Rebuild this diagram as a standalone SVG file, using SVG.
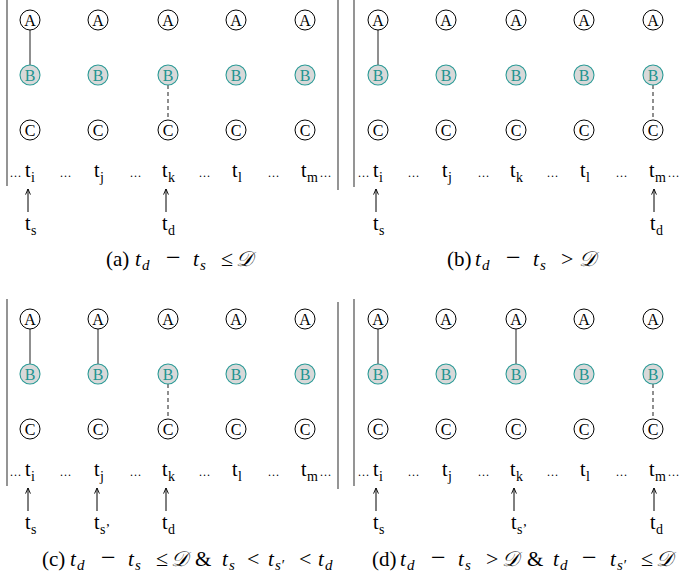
<svg xmlns="http://www.w3.org/2000/svg" width="681" height="581" viewBox="0 0 681 581" font-family="'Liberation Serif', 'Times New Roman', Times, 'DejaVu Serif', serif">
<style>
text{font-family:'Liberation Serif','Times New Roman',Times,'DejaVu Serif',serif;fill:#000}
.na{fill:#fff;stroke:#000;stroke-width:1}
.nb{fill:#d9d9d9;stroke:#2a9a96;stroke-width:1.1}
.la{font-size:16px;text-anchor:middle}
.lb{font-size:16px;text-anchor:middle;fill:#1f9490}
.t{font-size:20px}
.sub{font-size:14px}
.csub{font-size:15px}
.dots{font-size:12px;letter-spacing:1px}
.cap{font-size:21px}
.op{font-size:22px}
.mi{font-size:26px}
.it{font-style:italic}
.solid{stroke:#333;stroke-width:1.1;fill:none}
.dash{stroke:#333;stroke-width:1.1;stroke-dasharray:4 3;fill:none}
.arr{stroke:#000;stroke-width:1;fill:none;marker-end:url(#ah)}
.bar{stroke:#7a7a7a;stroke-width:1.6}
</style>
<defs>
<marker id="ah" viewBox="0 0 10 10" refX="9" refY="5" markerWidth="7" markerHeight="7" orient="auto" markerUnits="userSpaceOnUse">
<path d="M1,1.5 L9,5 L1,8.5" fill="none" stroke="#000" stroke-width="1.3"/>
</marker>
<g id="row">
<text class="t"><tspan class="dots" x="10" y="177">...</tspan><tspan x="25" y="177">t</tspan><tspan class="sub" x="31" y="182">i</tspan><tspan class="dots" x="60" y="177">...</tspan><tspan x="94" y="177">t</tspan><tspan class="sub" x="100" y="182">j</tspan><tspan class="dots" x="130" y="177">...</tspan><tspan x="162" y="177">t</tspan><tspan class="sub" x="168" y="182">k</tspan><tspan class="dots" x="199" y="177">...</tspan><tspan x="232" y="177">t</tspan><tspan class="sub" x="238" y="182">l</tspan><tspan class="dots" x="268" y="177">...</tspan><tspan x="301" y="177">t</tspan><tspan class="sub" x="307" y="182">m</tspan><tspan class="dots" x="320" y="177">...</tspan></text>
</g>
</defs>

<g id="borders">
<line class="bar" x1="7" y1="0" x2="7" y2="186"/>
<line class="bar" x1="338" y1="0" x2="338" y2="190"/>
<line class="bar" x1="354" y1="0" x2="354" y2="187"/>
<line class="bar" x1="7" y1="299" x2="7" y2="486"/>
<line class="bar" x1="338" y1="302" x2="338" y2="489"/>
<line class="bar" x1="354" y1="299" x2="354" y2="486"/>
</g>

<!-- Panel a -->
<g id="panel-a">
<g id="connectors-a">
<line class="solid" x1="30" y1="30" x2="30" y2="65"/>
<line class="dash" x1="168" y1="85" x2="168" y2="120"/>
<line class="arr" x1="28" y1="212" x2="28" y2="189"/>
<line class="arr" x1="166" y1="212" x2="166" y2="189"/>
</g>
<g id="a-A1"><circle class="na" cx="30" cy="20" r="10"/><text class="la" x="30" y="25.5">A</text></g>
<g id="a-A2"><circle class="na" cx="98" cy="20" r="10"/><text class="la" x="98" y="25.5">A</text></g>
<g id="a-A3"><circle class="na" cx="168" cy="20" r="10"/><text class="la" x="168" y="25.5">A</text></g>
<g id="a-A4"><circle class="na" cx="236" cy="20" r="10"/><text class="la" x="236" y="25.5">A</text></g>
<g id="a-A5"><circle class="na" cx="305" cy="20" r="10"/><text class="la" x="305" y="25.5">A</text></g>
<g id="a-B1"><circle class="nb" cx="30" cy="75" r="10"/><text class="lb" x="30" y="80.5">B</text></g>
<g id="a-B2"><circle class="nb" cx="98" cy="75" r="10"/><text class="lb" x="98" y="80.5">B</text></g>
<g id="a-B3"><circle class="nb" cx="168" cy="75" r="10"/><text class="lb" x="168" y="80.5">B</text></g>
<g id="a-B4"><circle class="nb" cx="236" cy="75" r="10"/><text class="lb" x="236" y="80.5">B</text></g>
<g id="a-B5"><circle class="nb" cx="305" cy="75" r="10"/><text class="lb" x="305" y="80.5">B</text></g>
<g id="a-C1"><circle class="na" cx="30" cy="130" r="10"/><text class="la" x="30" y="135.5">C</text></g>
<g id="a-C2"><circle class="na" cx="98" cy="130" r="10"/><text class="la" x="98" y="135.5">C</text></g>
<g id="a-C3"><circle class="na" cx="168" cy="130" r="10"/><text class="la" x="168" y="135.5">C</text></g>
<g id="a-C4"><circle class="na" cx="236" cy="130" r="10"/><text class="la" x="236" y="135.5">C</text></g>
<g id="a-C5"><circle class="na" cx="305" cy="130" r="10"/><text class="la" x="305" y="135.5">C</text></g>
<g id="a-time"><use href="#row"/></g>
<g id="a-ts"><text class="t" x="25" y="230">t<tspan class="sub" x="31" y="235">s</tspan></text></g>
<g id="a-td"><text class="t" x="162" y="230">t<tspan class="sub" x="168" y="235">d</tspan></text></g>
</g>

<!-- Panel b -->
<g id="panel-b" transform="translate(348,0)">
<g id="connectors-b">
<line class="solid" x1="30" y1="30" x2="30" y2="65"/>
<line class="dash" x1="305" y1="85" x2="305" y2="120"/>
<line class="arr" x1="28" y1="212" x2="28" y2="189"/>
<line class="arr" x1="306" y1="212" x2="306" y2="189"/>
</g>
<g id="b-A1"><circle class="na" cx="30" cy="20" r="10"/><text class="la" x="30" y="25.5">A</text></g>
<g id="b-A2"><circle class="na" cx="98" cy="20" r="10"/><text class="la" x="98" y="25.5">A</text></g>
<g id="b-A3"><circle class="na" cx="168" cy="20" r="10"/><text class="la" x="168" y="25.5">A</text></g>
<g id="b-A4"><circle class="na" cx="236" cy="20" r="10"/><text class="la" x="236" y="25.5">A</text></g>
<g id="b-A5"><circle class="na" cx="305" cy="20" r="10"/><text class="la" x="305" y="25.5">A</text></g>
<g id="b-B1"><circle class="nb" cx="30" cy="75" r="10"/><text class="lb" x="30" y="80.5">B</text></g>
<g id="b-B2"><circle class="nb" cx="98" cy="75" r="10"/><text class="lb" x="98" y="80.5">B</text></g>
<g id="b-B3"><circle class="nb" cx="168" cy="75" r="10"/><text class="lb" x="168" y="80.5">B</text></g>
<g id="b-B4"><circle class="nb" cx="236" cy="75" r="10"/><text class="lb" x="236" y="80.5">B</text></g>
<g id="b-B5"><circle class="nb" cx="305" cy="75" r="10"/><text class="lb" x="305" y="80.5">B</text></g>
<g id="b-C1"><circle class="na" cx="30" cy="130" r="10"/><text class="la" x="30" y="135.5">C</text></g>
<g id="b-C2"><circle class="na" cx="98" cy="130" r="10"/><text class="la" x="98" y="135.5">C</text></g>
<g id="b-C3"><circle class="na" cx="168" cy="130" r="10"/><text class="la" x="168" y="135.5">C</text></g>
<g id="b-C4"><circle class="na" cx="236" cy="130" r="10"/><text class="la" x="236" y="135.5">C</text></g>
<g id="b-C5"><circle class="na" cx="305" cy="130" r="10"/><text class="la" x="305" y="135.5">C</text></g>
<g id="b-time"><use href="#row"/></g>
<g id="b-ts"><text class="t" x="25" y="230">t<tspan class="sub" x="31" y="235">s</tspan></text></g>
<g id="b-td"><text class="t" x="302" y="230">t<tspan class="sub" x="308" y="235">d</tspan></text></g>
</g>

<!-- Panel c -->
<g id="panel-c" transform="translate(0,299)">
<g id="connectors-c">
<line class="solid" x1="30" y1="30" x2="30" y2="65"/>
<line class="solid" x1="98" y1="30" x2="98" y2="65"/>
<line class="dash" x1="168" y1="85" x2="168" y2="120"/>
<line class="arr" x1="28" y1="212" x2="28" y2="189"/>
<line class="arr" x1="97" y1="212" x2="97" y2="189"/>
<line class="arr" x1="166" y1="212" x2="166" y2="189"/>
</g>
<g id="c-A1"><circle class="na" cx="30" cy="20" r="10"/><text class="la" x="30" y="25.5">A</text></g>
<g id="c-A2"><circle class="na" cx="98" cy="20" r="10"/><text class="la" x="98" y="25.5">A</text></g>
<g id="c-A3"><circle class="na" cx="168" cy="20" r="10"/><text class="la" x="168" y="25.5">A</text></g>
<g id="c-A4"><circle class="na" cx="236" cy="20" r="10"/><text class="la" x="236" y="25.5">A</text></g>
<g id="c-A5"><circle class="na" cx="305" cy="20" r="10"/><text class="la" x="305" y="25.5">A</text></g>
<g id="c-B1"><circle class="nb" cx="30" cy="75" r="10"/><text class="lb" x="30" y="80.5">B</text></g>
<g id="c-B2"><circle class="nb" cx="98" cy="75" r="10"/><text class="lb" x="98" y="80.5">B</text></g>
<g id="c-B3"><circle class="nb" cx="168" cy="75" r="10"/><text class="lb" x="168" y="80.5">B</text></g>
<g id="c-B4"><circle class="nb" cx="236" cy="75" r="10"/><text class="lb" x="236" y="80.5">B</text></g>
<g id="c-B5"><circle class="nb" cx="305" cy="75" r="10"/><text class="lb" x="305" y="80.5">B</text></g>
<g id="c-C1"><circle class="na" cx="30" cy="130" r="10"/><text class="la" x="30" y="135.5">C</text></g>
<g id="c-C2"><circle class="na" cx="98" cy="130" r="10"/><text class="la" x="98" y="135.5">C</text></g>
<g id="c-C3"><circle class="na" cx="168" cy="130" r="10"/><text class="la" x="168" y="135.5">C</text></g>
<g id="c-C4"><circle class="na" cx="236" cy="130" r="10"/><text class="la" x="236" y="135.5">C</text></g>
<g id="c-C5"><circle class="na" cx="305" cy="130" r="10"/><text class="la" x="305" y="135.5">C</text></g>
<g id="c-time"><use href="#row"/></g>
<g id="c-ts"><text class="t" x="25" y="230">t<tspan class="sub" x="31" y="235">s</tspan></text></g>
<g id="c-ts2"><text class="t" x="94" y="230">t<tspan class="sub" x="100" y="235">s’</tspan></text></g>
<g id="c-td"><text class="t" x="162" y="230">t<tspan class="sub" x="168" y="235">d</tspan></text></g>
</g>

<!-- Panel d -->
<g id="panel-d" transform="translate(348,299)">
<g id="connectors-d">
<line class="solid" x1="30" y1="30" x2="30" y2="65"/>
<line class="solid" x1="168" y1="30" x2="168" y2="65"/>
<line class="dash" x1="305" y1="85" x2="305" y2="120"/>
<line class="arr" x1="28" y1="212" x2="28" y2="189"/>
<line class="arr" x1="166" y1="212" x2="166" y2="189"/>
<line class="arr" x1="306" y1="212" x2="306" y2="189"/>
</g>
<g id="d-A1"><circle class="na" cx="30" cy="20" r="10"/><text class="la" x="30" y="25.5">A</text></g>
<g id="d-A2"><circle class="na" cx="98" cy="20" r="10"/><text class="la" x="98" y="25.5">A</text></g>
<g id="d-A3"><circle class="na" cx="168" cy="20" r="10"/><text class="la" x="168" y="25.5">A</text></g>
<g id="d-A4"><circle class="na" cx="236" cy="20" r="10"/><text class="la" x="236" y="25.5">A</text></g>
<g id="d-A5"><circle class="na" cx="305" cy="20" r="10"/><text class="la" x="305" y="25.5">A</text></g>
<g id="d-B1"><circle class="nb" cx="30" cy="75" r="10"/><text class="lb" x="30" y="80.5">B</text></g>
<g id="d-B2"><circle class="nb" cx="98" cy="75" r="10"/><text class="lb" x="98" y="80.5">B</text></g>
<g id="d-B3"><circle class="nb" cx="168" cy="75" r="10"/><text class="lb" x="168" y="80.5">B</text></g>
<g id="d-B4"><circle class="nb" cx="236" cy="75" r="10"/><text class="lb" x="236" y="80.5">B</text></g>
<g id="d-B5"><circle class="nb" cx="305" cy="75" r="10"/><text class="lb" x="305" y="80.5">B</text></g>
<g id="d-C1"><circle class="na" cx="30" cy="130" r="10"/><text class="la" x="30" y="135.5">C</text></g>
<g id="d-C2"><circle class="na" cx="98" cy="130" r="10"/><text class="la" x="98" y="135.5">C</text></g>
<g id="d-C3"><circle class="na" cx="168" cy="130" r="10"/><text class="la" x="168" y="135.5">C</text></g>
<g id="d-C4"><circle class="na" cx="236" cy="130" r="10"/><text class="la" x="236" y="135.5">C</text></g>
<g id="d-C5"><circle class="na" cx="305" cy="130" r="10"/><text class="la" x="305" y="135.5">C</text></g>
<g id="d-time"><use href="#row"/></g>
<g id="d-ts"><text class="t" x="25" y="230">t<tspan class="sub" x="31" y="235">s</tspan></text></g>
<g id="d-ts2"><text class="t" x="163" y="230">t<tspan class="sub" x="169" y="235">s’</tspan></text></g>
<g id="d-td"><text class="t" x="302" y="230">t<tspan class="sub" x="308" y="235">d</tspan></text></g>
</g>

<!-- Captions -->
<g id="caption-a"><text class="cap"><tspan x="106" y="266">(a)</tspan><tspan class="it" x="135" y="266">t</tspan><tspan class="it csub" x="142" y="270">d</tspan><tspan class="mi" x="166" y="266">−</tspan><tspan class="it" x="193" y="266">t</tspan><tspan class="it csub" x="200" y="270">s</tspan><tspan class="op" x="221" y="266">≤</tspan><tspan class="it" x="236" y="266">𝒟</tspan></text></g>
<g id="caption-b"><text class="cap"><tspan x="447" y="266">(b)</tspan><tspan class="it" x="475" y="266">t</tspan><tspan class="it csub" x="482" y="270">d</tspan><tspan class="mi" x="506" y="266">−</tspan><tspan class="it" x="533" y="266">t</tspan><tspan class="it csub" x="540" y="270">s</tspan><tspan class="op" x="561" y="266">&gt;</tspan><tspan class="it" x="579" y="266">𝒟</tspan></text></g>
<g id="caption-c"><text class="cap"><tspan x="42" y="566">(c)</tspan><tspan class="it" x="70" y="566">t</tspan><tspan class="it csub" x="77" y="570">d</tspan><tspan class="mi" x="101" y="566">−</tspan><tspan class="it" x="128" y="566">t</tspan><tspan class="it csub" x="135" y="570">s</tspan><tspan class="op" x="156" y="566">≤</tspan><tspan class="it" x="171" y="566">𝒟</tspan><tspan x="195" y="566">&amp;</tspan><tspan class="it" x="222" y="566">t</tspan><tspan class="it csub" x="229" y="570">s</tspan><tspan class="op" x="247" y="566">&lt;</tspan><tspan class="it" x="268" y="566">t</tspan><tspan class="it csub" x="275" y="570">s′</tspan><tspan class="op" x="299" y="566">&lt;</tspan><tspan class="it" x="318" y="566">t</tspan><tspan class="it csub" x="325" y="570">d</tspan></text></g>
<g id="caption-d"><text class="cap"><tspan x="372" y="566">(d)</tspan><tspan class="it" x="400" y="566">t</tspan><tspan class="it csub" x="407" y="570">d</tspan><tspan class="mi" x="431" y="566">−</tspan><tspan class="it" x="458" y="566">t</tspan><tspan class="it csub" x="465" y="570">s</tspan><tspan class="op" x="486" y="566">&gt;</tspan><tspan class="it" x="502" y="566">𝒟</tspan><tspan x="527" y="566">&amp;</tspan><tspan class="it" x="553" y="566">t</tspan><tspan class="it csub" x="560" y="570">d</tspan><tspan class="mi" x="582" y="566">−</tspan><tspan class="it" x="610" y="566">t</tspan><tspan class="it csub" x="617" y="570">s′</tspan><tspan class="op" x="641" y="566">≤</tspan><tspan class="it" x="656" y="566">𝒟</tspan></text></g>
</svg>
